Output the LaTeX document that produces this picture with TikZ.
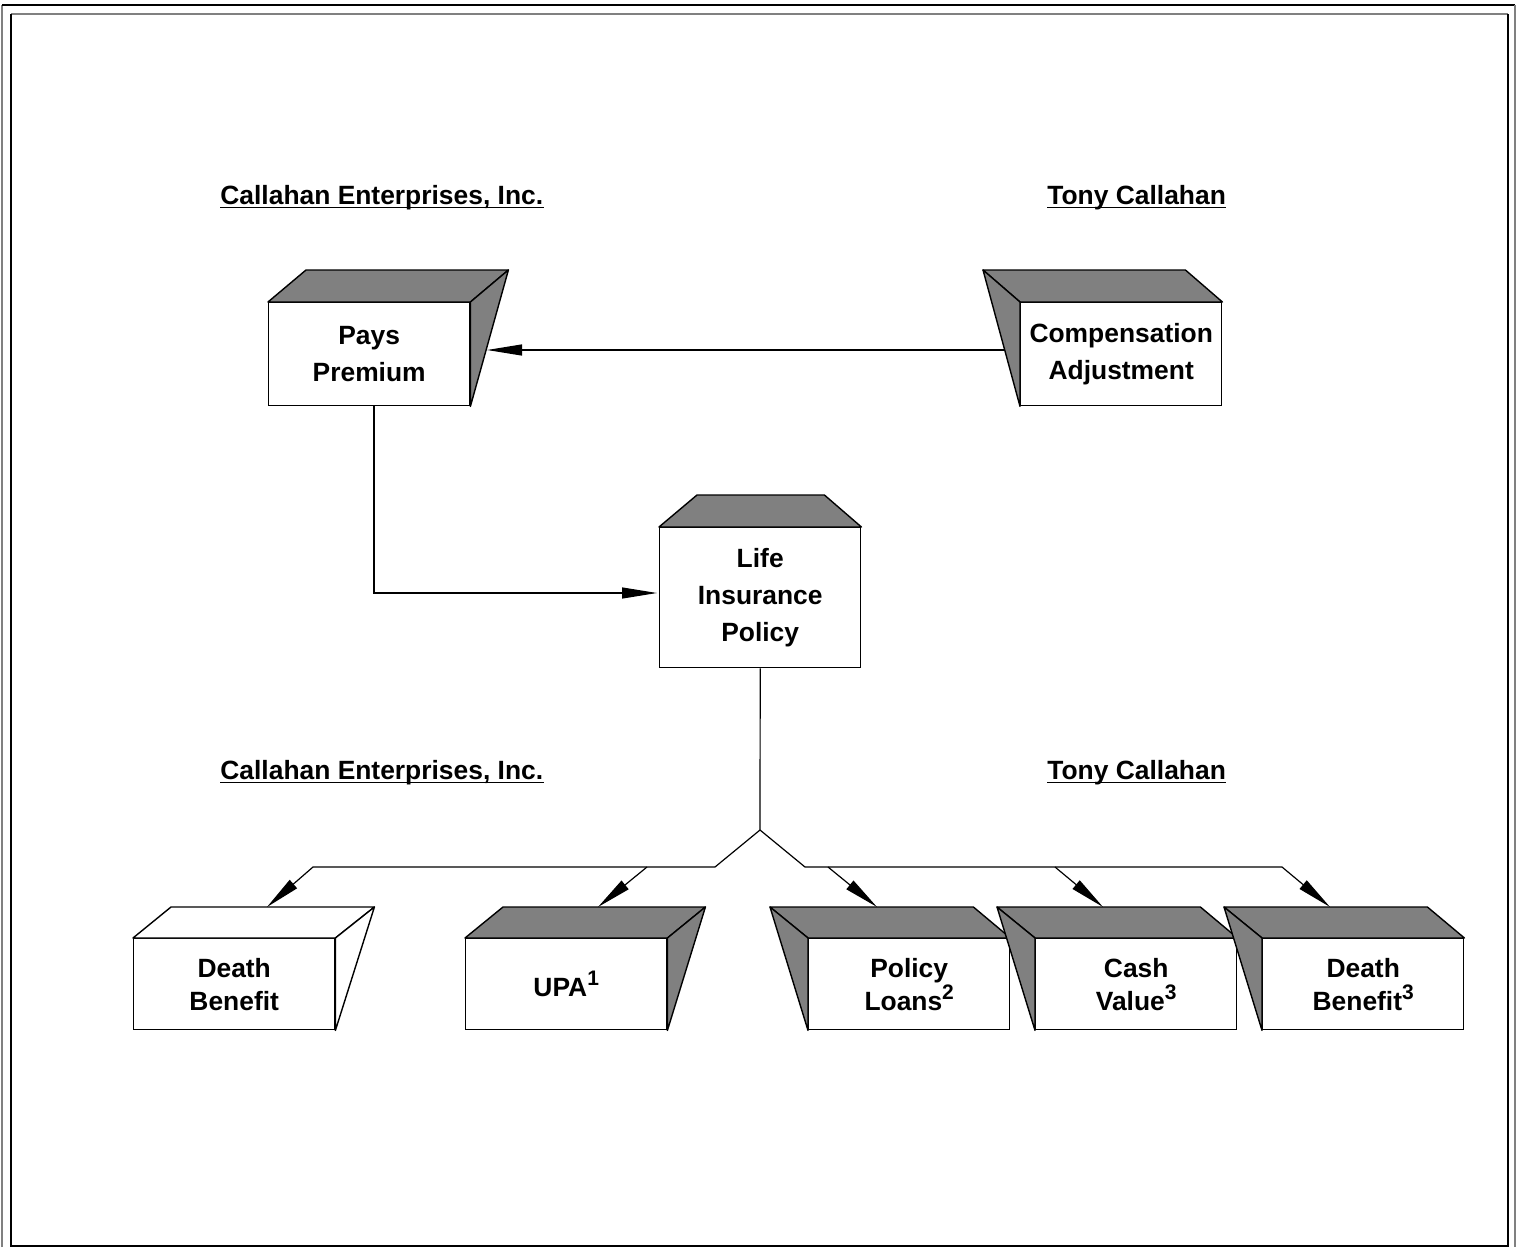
\documentclass[tikz,border=0pt]{standalone}
\usepackage{fontspec}
\setmainfont{Liberation Sans}
\usetikzlibrary{arrows.meta,calc}
\newcommand{\supmark}[1]{\raisebox{0.42em}{\fontsize{10.5}{10}\selectfont #1}}
\begin{document}
\begin{tikzpicture}[x=0.5pt,y=-0.5pt,
  boxfont/.style={font=\fontsize{13.2}{18.5}\selectfont\bfseries},
  front/.style={draw=black, line width=0.7pt, fill=white, boxfont, align=center,
    inner sep=0pt, anchor=north west, minimum width=100.5pt},
  tallbox/.style={front, minimum height=51.5pt},
  lifebox/.style={front, minimum height=70pt},
  lowbox/.style={front, minimum height=45.5pt, font=\fontsize{13.2}{16.5}\selectfont\bfseries},
  face/.style={draw=black, line width=0.7pt, fill=gray, line join=round},
  wface/.style={draw=black, line width=0.7pt, fill=white, line join=round},
  conn/.style={draw=black, line width=0.6pt},
  arr/.style={conn, -{Triangle[length=17.5pt,width=5.5pt]}},
  head/.style={boxfont, inner sep=0pt, anchor=base west},
  frameg/.style={draw=gray, line width=0.9pt},
  frameb/.style={draw=black, line width=0.9pt}
]
\useasboundingbox (0,0) rectangle (1519,1247);
% frames
\draw[frameg] (2,1247) -- (2,5);
\draw[frameb] (2,5) -- (1515,5);
\draw[frameg] (1515,5) -- (1515,1247);
\draw[frameg] (11,14) -- (1508,14);
\draw[frameb] (11,14) -- (11,1246) -- (1508,1246) -- (1508,14);

% headings
\node[head] (h1) at (220,204) {Callahan Enterprises, Inc.};
\node[head] (h2) at (1047,204) {Tony Callahan};
\node[head] (h3) at (220,779) {Callahan Enterprises, Inc.};
\node[head] (h4) at (1047,779) {Tony Callahan};
\foreach \h in {h1,h2,h3,h4}{
  \draw[line width=0.9pt] ($(\h.base west)+(0,3.5)$) -- ($(\h.base east)+(0,3.5)$);
}

% top boxes
\node[tallbox] (pays) at (268,302) {Pays\\Premium};
\draw[face] (pays.north west) -- ++(38,-32) -- ($(pays.north east)+(38,-32)$) -- (pays.north east) -- cycle;
\draw[face] (pays.north east) -- ++(38,-32) -- (pays.south east) -- cycle;

\node[tallbox] (comp) at (1020,302) {Compensation\\Adjustment};
\draw[face] (comp.north west) -- ++(-37,-32) -- ($(comp.north east)+(-37,-32)$) -- (comp.north east) -- cycle;
\draw[face] (comp.north west) -- ++(-37,-32) -- (comp.south west) -- cycle;

\node[lifebox] (life) at (659,527) {Life\\Insurance\\Policy};
\draw[face] (life.north west) -- ++(38,-32) -- ($(life.north east)+(-37,-32)$) -- (life.north east) -- cycle;

% bottom boxes
\node[lowbox] (db1) at (133,938) {Death\\Benefit\vphantom{\supmark{3}}};
\draw[wface] (db1.north west) -- ++(38,-31) -- ($(db1.north east)+(39,-31)$) -- (db1.north east) -- cycle;
\draw[wface] (db1.north east) -- ++(39,-31) -- (db1.south east) -- cycle;

\node[lowbox] (upa) at (465,938) {UPA\supmark{1}};
\draw[face] (upa.north west) -- ++(38,-31) -- ($(upa.north east)+(38,-31)$) -- (upa.north east) -- cycle;
\draw[face] (upa.north east) -- ++(38,-31) -- (upa.south east) -- cycle;

\node[lowbox] (loans) at (808,938) {Policy\\Loans\supmark{2}};
\draw[face] (loans.north west) -- ++(-38,-31) -- ($(loans.north east)+(-37,-31)$) -- (loans.north east) -- cycle;
\draw[face] (loans.north west) -- ++(-38,-31) -- (loans.south west) -- cycle;

\node[lowbox] (cash) at (1035,938) {Cash\\Value\supmark{3}};
\draw[face] (cash.north west) -- ++(-38,-31) -- ($(cash.north east)+(-37,-31)$) -- (cash.north east) -- cycle;
\draw[face] (cash.north west) -- ++(-38,-31) -- (cash.south west) -- cycle;

\node[lowbox] (db3) at (1262,938) {Death\\Benefit\supmark{3}};
\draw[face] (db3.north west) -- ++(-38,-31) -- ($(db3.north east)+(-37,-31)$) -- (db3.north east) -- cycle;
\draw[face] (db3.north west) -- ++(-38,-31) -- (db3.south west) -- cycle;

% connector points
\coordinate (comp-in) at (1005,350);
\coordinate (pays-in) at (487,350);
\coordinate (pays-out) at (374,405);
\coordinate (life-in) at (657,593);
\coordinate (split) at (760,830);
\coordinate (jl) at (715,867);
\coordinate (hl) at (313,867);
\coordinate (bu) at (647,867);
\coordinate (jr) at (805,867);
\coordinate (hr) at (1282,867);
\coordinate (bl) at (828,867);
\coordinate (bc) at (1055,867);
\coordinate (db1-in) at (267,907);
\coordinate (upa-in) at (598,907);
\coordinate (loans-in) at (877,907);
\coordinate (cash-in) at (1103,907);
\coordinate (db3-in) at (1330,907);

% connectors
\draw[arr] (comp-in) -- (pays-in);
\draw[arr] (pays-out) |- (life-in);
\draw[conn] (life.south) -- (split);
\draw[arr] (split) -- (jl) -- (hl) -- (db1-in);
\draw[arr] (bu) -- (upa-in);
\draw[arr] (split) -- (jr) -- (hr) -- (db3-in);
\draw[arr] (bl) -- (loans-in);
\draw[arr] (bc) -- (cash-in);
\end{tikzpicture}
\end{document}
